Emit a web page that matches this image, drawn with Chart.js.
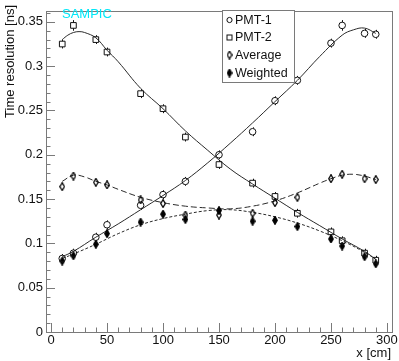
<!DOCTYPE html>
<html>
<head>
<meta charset="utf-8">
<script src="https://cdn.jsdelivr.net/npm/chart.js@4.4.1/dist/chart.umd.min.js"></script>
<style>
  html,body{margin:0;padding:0;background:#fff}
  #wrap{width:399px;height:361px;position:relative}
</style>
</head>
<body>
<div id="wrap"><canvas id="c" width="399" height="361"></canvas></div>
<script>
// ---------- Measured points (x in cm, time resolution in ns)
const xPos = [10,20,40,50,80,100,120,150,180,200,220,250,260,280,290];
const pmt1 = [0.083,0.089,0.107,0.121,0.143,0.155,0.170,0.200,0.226,0.261,0.284,0.326,0.346,0.337,0.336];
const pmt2 = [0.325,0.346,0.330,0.316,0.269,0.252,0.220,0.189,0.168,0.153,0.134,0.113,0.103,0.089,0.081];
const avg  = [0.164,0.176,0.169,0.166,0.149,0.145,0.132,0.132,0.134,0.146,0.152,0.173,0.178,0.173,0.172];
const wgt  = [0.080,0.086,0.099,0.111,0.124,0.133,0.127,0.137,0.125,0.126,0.119,0.105,0.097,0.085,0.077];

// error bars
const pmt1Err = [0.005,0.005,0.005,0.005,0.005,0.005,0.005,0.005,0.005,0.005,0.005,0.005,0.006,0.005,0.005];
const pmt2Err = [0.005,0.006,0.005,0.005,0.005,0.005,0.005,0.005,0.005,0.005,0.005,0.005,0.005,0.005,0.005];
const avgErr  = [0.004,0.004,0.004,0.004,0.004,0.004,0.004,0.004,0.004,0.004,0.004,0.004,0.004,0.004,0.004];
const wgtErr  = [0.004,0.004,0.004,0.004,0.004,0.004,0.004,0.004,0.004,0.004,0.004,0.004,0.004,0.004,0.004];

// ---------- Fit curves
const pmt1FitX = [10,20,40,60,80,100,120,140,160,180,200,220,240,260,270,280,290];
const pmt1Fit  = [0.085,0.091,0.107,0.122,0.138,0.154,0.171,0.191,0.213,0.236,0.260,0.284,0.311,0.335,0.341,0.343,0.337];
const pmt2FitX = [10,15,20,25,30,40,50,60,80,100,120,140,160,180,200,220,240,260,280,290];
const pmt2Fit  = [0.330,0.335,0.338,0.339,0.338,0.332,0.318,0.305,0.275,0.252,0.227,0.205,0.184,0.167,0.151,0.135,0.120,0.105,0.091,0.082];
const avgFitX  = [10,20,30,40,50,60,80,100,120,140,160,180,200,220,240,250,260,270,280,290];
const avgFit   = [0.170,0.177,0.175,0.170,0.166,0.161,0.152,0.146,0.142,0.140,0.139,0.142,0.148,0.157,0.168,0.173,0.177,0.178,0.176,0.172];
const wgtFitX  = [10,20,40,60,80,100,120,140,160,180,200,220,240,260,280,290];
const wgtFit   = [0.083,0.088,0.099,0.111,0.121,0.128,0.133,0.137,0.138,0.135,0.130,0.123,0.114,0.103,0.090,0.082];

// ---------- Axes
const xTicks = [0,50,100,150,200,250,300];
const xTickLabels = ['0','50','100','150','200','250','300'];
const yTicks = [0,0.05,0.1,0.15,0.2,0.25,0.3,0.35];
const yTickLabels = ['0','0.05','0.1','0.15','0.2','0.25','0.3','0.35'];
const legendLabels = ['PMT-1','PMT-2','Average','Weighted'];

const FONT = "'Liberation Sans', Arial, Helvetica, sans-serif";
const frameColor = '#7a7a7a';
const ink = '#111';

// ---------- Helpers
function pts(xs, ys){ return xs.map((x,i)=>({x, y:ys[i]})); }
function diamond(w,h,filled){
  const c=document.createElement('canvas'); c.width=w; c.height=h;
  const g=c.getContext('2d');
  g.beginPath(); g.moveTo(w/2,0.7); g.lineTo(w-0.7,h/2); g.lineTo(w/2,h-0.7); g.lineTo(0.7,h/2); g.closePath();
  if(filled){ g.fillStyle='#000'; g.fill(); }
  g.strokeStyle='#000'; g.lineWidth=1.3; g.stroke();
  return c;
}
const openDiamond = diamond(6,9,false);
const fullDiamond = diamond(6,9,true);

function markerSet(label, ys, errs, style, radius, half){
  return { label, data: pts(xPos, ys), showLine:false, pointStyle:style, pointRadius:radius, pointHoverRadius:radius,
    borderColor:ink, backgroundColor:'rgba(0,0,0,0)', borderWidth:1, errors:errs, half, order:1 };
}
function curveSet(xs, ys, dash){
  return { data: pts(xs, ys), showLine:true, pointRadius:0, borderColor:'#2a2a2a', borderWidth:1,
    borderDash:dash, tension:0.4, fill:false, order:2 };
}

// ---------- Plugins: error bars, frame with inner ticks, legend, titles
const errorBars = {
  id:'errorBars',
  afterDatasetsDraw(chart){
    const ctx=chart.ctx, ys=chart.scales.y;
    ctx.save(); ctx.strokeStyle=ink; ctx.lineWidth=1;
    chart.data.datasets.forEach((ds,i)=>{
      if(!ds.errors) return;
      chart.getDatasetMeta(i).data.forEach((el,j)=>{
        const v=ds.data[j].y, e=ds.errors[j];
        const top=ys.getPixelForValue(v+e), bot=ys.getPixelForValue(v-e);
        const x=Math.round(el.x)+0.5;
        ctx.beginPath();
        if(top < el.y-ds.half){ ctx.moveTo(x,top); ctx.lineTo(x,el.y-ds.half); }
        if(bot > el.y+ds.half){ ctx.moveTo(x,el.y+ds.half); ctx.lineTo(x,bot); }
        ctx.stroke();
      });
    });
    ctx.restore();
  }
};

const frame = {
  id:'frame',
  afterDraw(chart){
    const {ctx, chartArea:a, scales:{x,y}} = chart;
    ctx.save(); ctx.strokeStyle=frameColor; ctx.lineWidth=1;
    ctx.strokeRect(Math.round(a.left)+0.5, Math.round(a.top)+0.5, Math.round(a.right-a.left), Math.round(a.bottom-a.top));
    ctx.beginPath();
    for(let v=0; v<=300.001; v+=10){
      const px=Math.round(x.getPixelForValue(v))+0.5;
      const len = (Math.round(v)%50===0) ? 9 : 4.5;
      ctx.moveTo(px, a.bottom); ctx.lineTo(px, a.bottom-len);
    }
    for(let k=0; k<=36; k++){
      const v=k/100;
      const py=Math.round(y.getPixelForValue(v))+0.5;
      const len = (k%5===0) ? 9 : 4.5;
      ctx.moveTo(a.left, py); ctx.lineTo(a.left+len, py);
    }
    ctx.stroke();

    // axis titles and label
    ctx.fillStyle=ink; ctx.font='13px '+FONT;
    ctx.textAlign='right'; ctx.textBaseline='alphabetic';
    ctx.fillText('x [cm]', 391, 357);
    ctx.save(); ctx.translate(13.5, 5); ctx.rotate(-Math.PI/2);
    ctx.fillText('Time resolution [ns]', 0, 0);
    ctx.restore();
    ctx.fillStyle='#00e8f8'; ctx.textAlign='left';
    ctx.fillText('SAMPIC', 62, 17.5);

    // legend
    const lx=222.5, ly=10.5, lw=72, lh=72;
    ctx.fillStyle='#fff'; ctx.fillRect(lx,ly,lw,lh);
    ctx.strokeStyle=frameColor; ctx.strokeRect(lx,ly,lw,lh);
    const rows=[20,37.5,55,73];
    ctx.font='12.5px '+FONT; ctx.textBaseline='middle'; ctx.textAlign='left'; ctx.fillStyle=ink;
    ctx.strokeStyle=ink;
    legendLabels.forEach((t,i)=>{
      const my=rows[i], mx=229.5;
      ctx.beginPath();
      if(i===0){ ctx.arc(mx,my,2.6,0,Math.PI*2); ctx.stroke(); }
      else if(i===1){ ctx.strokeRect(mx-2.5,my-2.5,5,5); }
      else { ctx.drawImage(i===2?openDiamond:fullDiamond, mx-3, my-4.5, 6, 9); }
      ctx.fillText(t, 235, my+0.5);
    });
    ctx.restore();
  }
};

// ---------- Chart
const chart = new Chart(document.getElementById('c').getContext('2d'), {
  type:'scatter',
  data:{ datasets:[
    curveSet(pmt1FitX, pmt1Fit, []),
    curveSet(pmt2FitX, pmt2Fit, []),
    curveSet(avgFitX, avgFit, [6,3]),
    curveSet(wgtFitX, wgtFit, [3,2]),
    markerSet('PMT-1', pmt1, pmt1Err, 'circle', 3.3, 3.3),
    markerSet('PMT-2', pmt2, pmt2Err, 'rect', 4, 2.9),
    markerSet('Average', avg, avgErr, openDiamond, 4.5, 4.5),
    markerSet('Weighted', wgt, wgtErr, fullDiamond, 4.5, 4.5)
  ]},
  options:{
    responsive:false, animation:false, devicePixelRatio:1,
    layout:{padding:{top:4,right:7,left:0,bottom:0}},
    plugins:{legend:{display:false}, tooltip:{enabled:false}},
    scales:{
      x:{ type:'linear', min:-4.5, max:304.5,
        grid:{display:false, drawTicks:false}, border:{display:false},
        afterBuildTicks:s=>{ s.ticks = xTicks.map(v=>({value:v})); },
        afterFit:s=>{ s.height=29; },
        ticks:{ padding:1, color:ink, autoSkip:false, maxRotation:0, font:{family:FONT,size:13},
          callback:(v,i)=>xTickLabels[i] }
      },
      y:{ type:'linear', min:0, max:0.3625,
        grid:{display:false, drawTicks:false}, border:{display:false},
        afterBuildTicks:s=>{ s.ticks = yTicks.map(v=>({value:v})); },
        afterFit:s=>{ s.width=46; },
        ticks:{ padding:3, color:ink, autoSkip:false, font:{family:FONT,size:13},
          callback:(v,i)=>yTickLabels[i] }
      }
    }
  },
  plugins:[errorBars, frame]
});
</script>
</body>
</html>
